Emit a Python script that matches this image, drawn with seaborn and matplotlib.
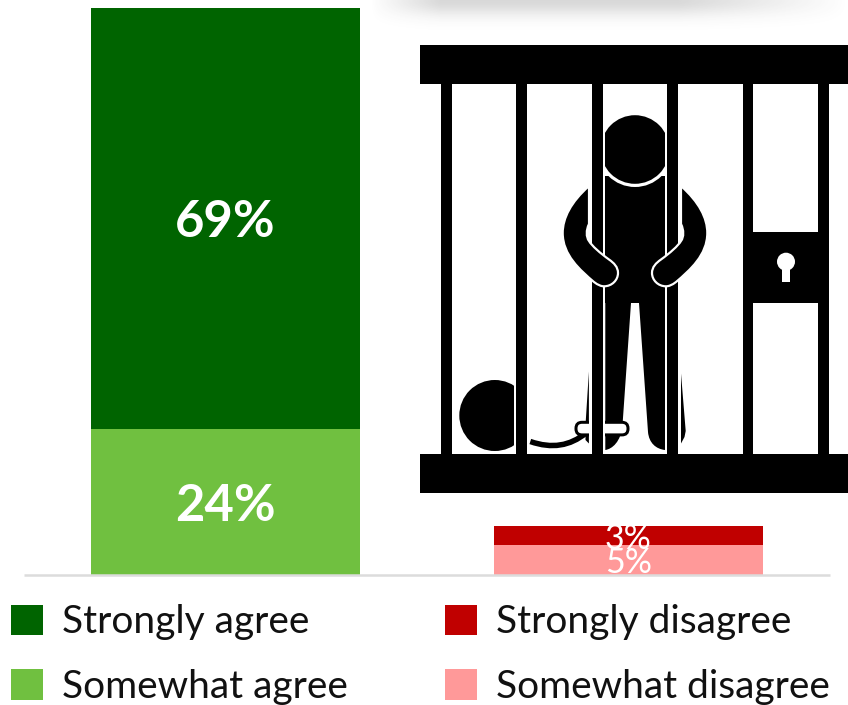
import numpy as np
import matplotlib
matplotlib.use("Agg")
import matplotlib.pyplot as plt
import seaborn as sns
from matplotlib.patches import Rectangle, Circle, PathPatch, Polygon, FancyBboxPatch
from matplotlib.path import Path

# ---- data ----
categories = ["Agree", "Disagree"]
agree_labels = ["Somewhat agree", "Strongly agree"]
agree_values = [24, 69]
disagree_labels = ["Somewhat disagree", "Strongly disagree"]
disagree_values = [5, 3]
agree_colors = ["#70C040", "#006400"]
disagree_colors = ["#FF9999", "#C00000"]
legend_order = ["Strongly agree", "Somewhat agree", "Strongly disagree", "Somewhat disagree"]

W, H = 848, 705
sns.set_theme(style="white")
plt.rcParams["font.family"] = ["Lato", "DejaVu Sans"]
fig = plt.figure(figsize=(W / 100, H / 100), dpi=100, facecolor="white")

# ---- chart ----
AX_BOTTOM = 575.2
ax = fig.add_axes([24 / W, 1 - AX_BOTTOM / H, 806 / W, AX_BOTTOM / H])
bar_width = 269 / 403

def stack(idx, labels, values, colors, size, weight):
    bottom = 0
    for lab, val, col in zip(labels, values, colors):
        sns.barplot(x=[categories[idx]], y=[val], order=categories, bottom=bottom, color=col,
                    saturation=1, width=bar_width, label=lab, ax=ax, linewidth=0)
        ax.text(idx, bottom + val / 2, f"{val}%", ha="center", va="center_baseline",
                color="white", fontsize=size, fontweight=weight, zorder=4)
        bottom += val

stack(0, agree_labels, agree_values, agree_colors, 36.5, "bold")
stack(1, disagree_labels, disagree_values, disagree_colors, 24.5, "normal")

ax.set_xlim(-0.5, 1.5)
ax.set_ylim(0, AX_BOTTOM / 6.1)
ax.set_xlabel(""); ax.set_ylabel("")
ax.set_xticks([]); ax.set_yticks([])
for s in ["top", "left", "right"]:
    ax.spines[s].set_visible(False)
ax.spines["bottom"].set_color("#DCDCDC")
ax.spines["bottom"].set_linewidth(1.8)
ax.spines["bottom"].set_capstyle("butt")
ax.patch.set_alpha(0)

handles, labels = ax.get_legend_handles_labels()
if ax.get_legend() is not None:
    ax.get_legend().remove()
lookup = dict(zip(labels, handles))
fig.legend([lookup[k] for k in legend_order], legend_order, ncol=2, frameon=False,
           loc="lower left", bbox_to_anchor=(11 / W, 0), borderaxespad=0, borderpad=0,
           fontsize=28, handlelength=0.82, handleheight=0.82, handletextpad=0.49,
           labelspacing=0.735, columnspacing=2.51, labelcolor="#111111")

# ---- decorative prison icon, drawn on a pixel-coordinate overlay ----
ov = fig.add_axes([0, 0, 1, 1], zorder=5)
ov.set_xlim(0, W); ov.set_ylim(H, 0); ov.axis("off"); ov.patch.set_alpha(0)

# soft shadow at the top edge
xs, ys = np.meshgrid(np.arange(370, W), np.arange(0, 40))
alpha = 0.20 * np.exp(-(ys / 15.0) ** 2) * np.clip((xs - 370) / 70, 0, 1) * np.clip((848 - xs) / 170, 0, 1)
rgba = np.zeros(xs.shape + (4,))
rgba[..., :3] = 0.25
rgba[..., 3] = alpha
ov.imshow(rgba, extent=(370, W, 40, 0), aspect="auto", interpolation="bilinear")
ov.set_xlim(0, W); ov.set_ylim(H, 0)

PX = 72 / 100
def rect(x0, y0, x1, y1, c="black", z=1):
    r = Rectangle((x0, y0), x1 - x0, y1 - y0, fc=c, ec="none", zorder=z)
    ov.add_patch(r)
    return r

# prisoner: head with white collar arc
rect(605.3, 176, 665, 303, z=1)
clip = Rectangle((605.3, 100), 59.7, 100, transform=ov.transData)
for radius, col, z in [(37.5, "white", 2), (34.3, "black", 3)]:
    c = Circle((635, 149.5), radius, fc=col, ec="none", zorder=z)
    ov.add_patch(c)
    c.set_clip_path(clip)

# legs
left_leg = Path([(605.3, 300), (631, 303), (622.5, 425), (621, 442), (612, 449), (605.3, 450), (605.3, 300)],
                [Path.MOVETO, Path.LINETO, Path.LINETO, Path.CURVE4, Path.CURVE4, Path.CURVE4, Path.CLOSEPOLY])
ov.add_patch(PathPatch(left_leg, fc="black", ec="none", zorder=1))
right_leg = Path([(639, 303), (665, 300), (665, 450), (656, 449), (649, 443), (648, 432), (639, 303)],
                 [Path.MOVETO, Path.LINETO, Path.LINETO, Path.CURVE4, Path.CURVE4, Path.CURVE4, Path.CLOSEPOLY])
ov.add_patch(PathPatch(right_leg, fc="black", ec="none", zorder=1))

# slivers of leg outside the bars
ov.add_patch(Polygon([(588.9, 371.5), (585.5, 425), (585.5, 440), (588.9, 443.5)], fc="black", ec="none", zorder=1))
ov.add_patch(Polygon([(681, 373.5), (685.7, 431), (684.5, 437), (681, 443.5)], fc="black", ec="none", zorder=1))

# ball
ball_clip = Rectangle((450, 370), 64, 90, transform=ov.transData)
ball = Circle((494.8, 415.5), 35.5, fc="black", ec="none", zorder=1)
ov.add_patch(ball)
ball.set_clip_path(ball_clip)

# chain
chain = Path([(530.3, 441.5), (552, 449), (570, 446), (586, 433)], [Path.MOVETO, Path.CURVE4, Path.CURVE4, Path.CURVE4])
ov.add_patch(PathPatch(chain, fc="none", ec="black", lw=5.5 * PX, zorder=2, capstyle="butt"))

# ankle cuff
ov.add_patch(FancyBboxPatch((576, 422.3), 52, 12.6, boxstyle="round,pad=0,rounding_size=6",
                            fc="white", ec="black", lw=3 * PX, zorder=3))

# halo round the two central bars
rect(589, 84, 605.3, 454, "white", z=4)
rect(665, 84, 681, 454, "white", z=4)

# bars and frame
for x0, x1 in [(441.3, 452), (516.3, 527.3), (592.3, 603), (667.3, 677.7), (742.7, 753.3), (818, 828.7)]:
    rect(x0, 80, x1, 456, z=5)
rect(420, 45, W, 84, z=6)
rect(420, 453.5, W, 492.7, z=6)
rect(753, 231.7, 819, 303.3, z=6)
ov.add_patch(Circle((786, 261.7), 9, fc="white", ec="none", zorder=7))
rect(782, 265, 790, 282.3, "white", z=7)

# arms in front of the bars
arm_xy = [(589, 186), (571, 202), (562.7, 218), (562.7, 233),
          (562.7, 255), (580, 270), (594, 282),
          (598, 285), (601, 286.3), (604, 286.3),
          (612, 286.3), (618, 280), (618, 273),
          (618, 267), (614, 263), (609, 259.5),
          (600, 253), (592, 246), (589, 241),
          (586, 237), (586, 230), (589, 224), (589, 186)]
arm_codes = [Path.MOVETO] + [Path.CURVE4] * 21 + [Path.CLOSEPOLY]
for mirror in (False, True):
    pts = [(1270 - x, y) if mirror else (x, y) for x, y in arm_xy]
    ov.add_patch(PathPatch(Path(pts, arm_codes), fc="black", ec="white", lw=2.2 * PX, zorder=8))

fig.savefig("out.png", dpi=100)
